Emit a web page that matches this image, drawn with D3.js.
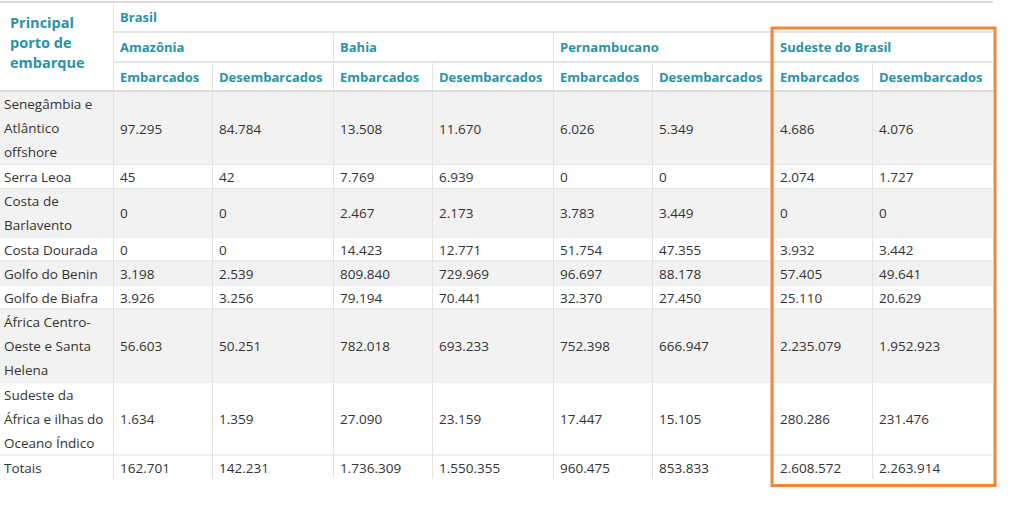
<!DOCTYPE html>
<html lang="pt">
<head>
<meta charset="UTF-8">
<title>Principal porto de embarque</title>
<script src="https://d3js.org/d3.v7.min.js"></script>
<style>
  html, body { margin: 0; padding: 0; background: #fff; }
  svg { display: block; font-family: "Open Sans", "Noto Sans", sans-serif; }
  .hdr { fill: #2a92a6; font-weight: 700; font-size: 13px; }
  .hdr .big { font-size: 14.5px; }
  .cell { fill: #333; font-size: 13.5px; }
</style>
</head>
<body>
<svg id="chart" width="1024" height="526"></svg>
<script>
// row labels, each split into the lines shown in the picture
const ports = [
  ["Senegâmbia e", "Atlântico", "offshore"],
  ["Serra Leoa"],
  ["Costa de", "Barlavento"],
  ["Costa Dourada"],
  ["Golfo do Benin"],
  ["Golfo de Biafra"],
  ["África Centro-", "Oeste e Santa", "Helena"],
  ["Sudeste da", "África e ilhas do", "Oceano Índico"],
  ["Totais"]
];
const regions = ["Amazônia", "Bahia", "Pernambucano", "Sudeste do Brasil"];
const measures = ["Embarcados", "Desembarcados"];

const amazoniaEmb = [97295, 45, 0, 0, 3198, 3926, 56603, 1634, 162701];
const amazoniaDes = [84784, 42, 0, 0, 2539, 3256, 50251, 1359, 142231];
const bahiaEmb = [13508, 7769, 2467, 14423, 809840, 79194, 782018, 27090, 1736309];
const bahiaDes = [11670, 6939, 2173, 12771, 729969, 70441, 693233, 23159, 1550355];
const pernambucanoEmb = [6026, 0, 3783, 51754, 96697, 32370, 752398, 17447, 960475];
const pernambucanoDes = [5349, 0, 3449, 47355, 88178, 27450, 666947, 15105, 853833];
const sudesteEmb = [4686, 2074, 0, 3932, 57405, 25110, 2235079, 280286, 2608572];
const sudesteDes = [4076, 1727, 0, 3442, 49641, 20629, 1952923, 231476, 2263914];

const series = [amazoniaEmb, amazoniaDes, bahiaEmb, bahiaDes,
                pernambucanoEmb, pernambucanoDes, sudesteEmb, sudesteDes];

const fmt = d3.formatLocale({decimal: ",", thousands: ".", grouping: [3], currency: ["R$", ""]}).format(",d");

const svg = d3.select("#chart");

// layout
const firstW = 113;
const colW = [99, 121];          // Embarcados / Desembarcados widths
const tableRight = 993;
const headTop = 2, headRow = [30, 30, 29];
const lineH = 24;

// column positions through an ordinal scale
const colKeys = d3.range(series.length);
const colX = d3.scaleOrdinal().domain(colKeys)
  .range(colKeys.map(i => firstW + Math.floor(i / 2) * (colW[0] + colW[1]) + (i % 2) * colW[0]));

// row positions
const hY = [headTop, headTop + headRow[0], headTop + headRow[0] + headRow[1]];
const bodyTop = hY[2] + headRow[2];
const rowH = ports.map(l => l.length * lineH + (l.length - 1) * 0.5);
const rowY = d3.scaleOrdinal().domain(d3.range(ports.length))
  .range(d3.range(ports.length).map(i => bodyTop + d3.sum(rowH.slice(0, i))));
const tableBottom = bodyTop + d3.sum(rowH);

// striped body backgrounds
svg.append("g").selectAll("rect").data(ports).join("rect")
  .attr("x", 0).attr("y", (d, i) => rowY(i))
  .attr("width", tableRight).attr("height", (d, i) => rowH[i])
  .attr("fill", (d, i) => i % 2 === 0 && i < ports.length - 1 ? "#f2f2f2" : "#fff");

// grid lines
const grid = svg.append("g").attr("stroke", "#e3e3e3").attr("stroke-width", 1);
grid.selectAll("line.r").data(d3.range(1, ports.length)).join("line")
  .attr("x1", 0).attr("x2", tableRight)
  .attr("y1", i => rowY(i) + 0.5).attr("y2", i => rowY(i) + 0.5);
grid.selectAll("line.c").data(colKeys).join("line")
  .attr("x1", i => colX(i) + 0.5).attr("x2", i => colX(i) + 0.5)
  .attr("y1", i => i === 0 ? headTop : (i % 2 === 0 ? hY[1] : hY[2]))
  .attr("y2", tableBottom);
grid.append("line").attr("x1", firstW).attr("x2", tableRight).attr("y1", hY[1]).attr("y2", hY[1]).attr("stroke-width", 2);
grid.append("line").attr("x1", firstW).attr("x2", tableRight).attr("y1", hY[2]).attr("y2", hY[2]).attr("stroke-width", 2);
grid.append("line").attr("x1", 0).attr("x2", tableRight).attr("y1", bodyTop).attr("y2", bodyTop).attr("stroke-width", 2).attr("stroke", "#dcdcdc");
grid.append("line").attr("x1", 0).attr("x2", tableRight).attr("y1", headTop).attr("y2", headTop).attr("stroke-width", 2).attr("stroke", "#dcdcdc");

// header text
const head = svg.append("g").attr("class", "hdr");
head.append("text").attr("class", "big").selectAll("tspan").data(["Principal", "porto de", "embarque"]).join("tspan")
  .attr("x", 10).attr("y", (d, i) => 28 + i * 20).text(d => d);
head.append("text").attr("x", firstW + 7).attr("y", hY[0] + 20).text("Brasil");
head.selectAll("text.reg").data(regions).join("text").attr("class", "reg")
  .attr("x", (d, i) => colX(i * 2) + 7).attr("y", hY[1] + 20).text(d => d);
head.selectAll("text.meas").data(colKeys).join("text").attr("class", "meas")
  .attr("x", i => colX(i) + 7).attr("y", hY[2] + 20).text(i => measures[i % 2]);

// body: port names
const body = svg.append("g").attr("class", "cell");
body.selectAll("text.port").data(ports).join("text").attr("class", "port")
  .selectAll("tspan").data((d, i) => d.map(t => ({t, i}))).join("tspan")
  .attr("x", 4).attr("y", (d, j) => rowY(d.i) + 18 + j * lineH).text(d => d.t);

// body: values
series.forEach((vals, c) => {
  body.selectAll("text.v" + c).data(vals).join("text").attr("class", "v" + c)
    .attr("x", colX(c) + 7)
    .attr("y", (d, i) => rowY(i) + rowH[i] / 2 + 6)
    .text(d => fmt(d));
});

// orange highlight around Sudeste do Brasil
svg.append("rect")
  .attr("x", colX(6) - 1).attr("y", 28)
  .attr("width", tableRight - colX(6) + 3).attr("height", tableBottom + 7 - 28)
  .attr("fill", "none").attr("stroke", "#f5853a").attr("stroke-width", 3);
</script>
</body>
</html>
